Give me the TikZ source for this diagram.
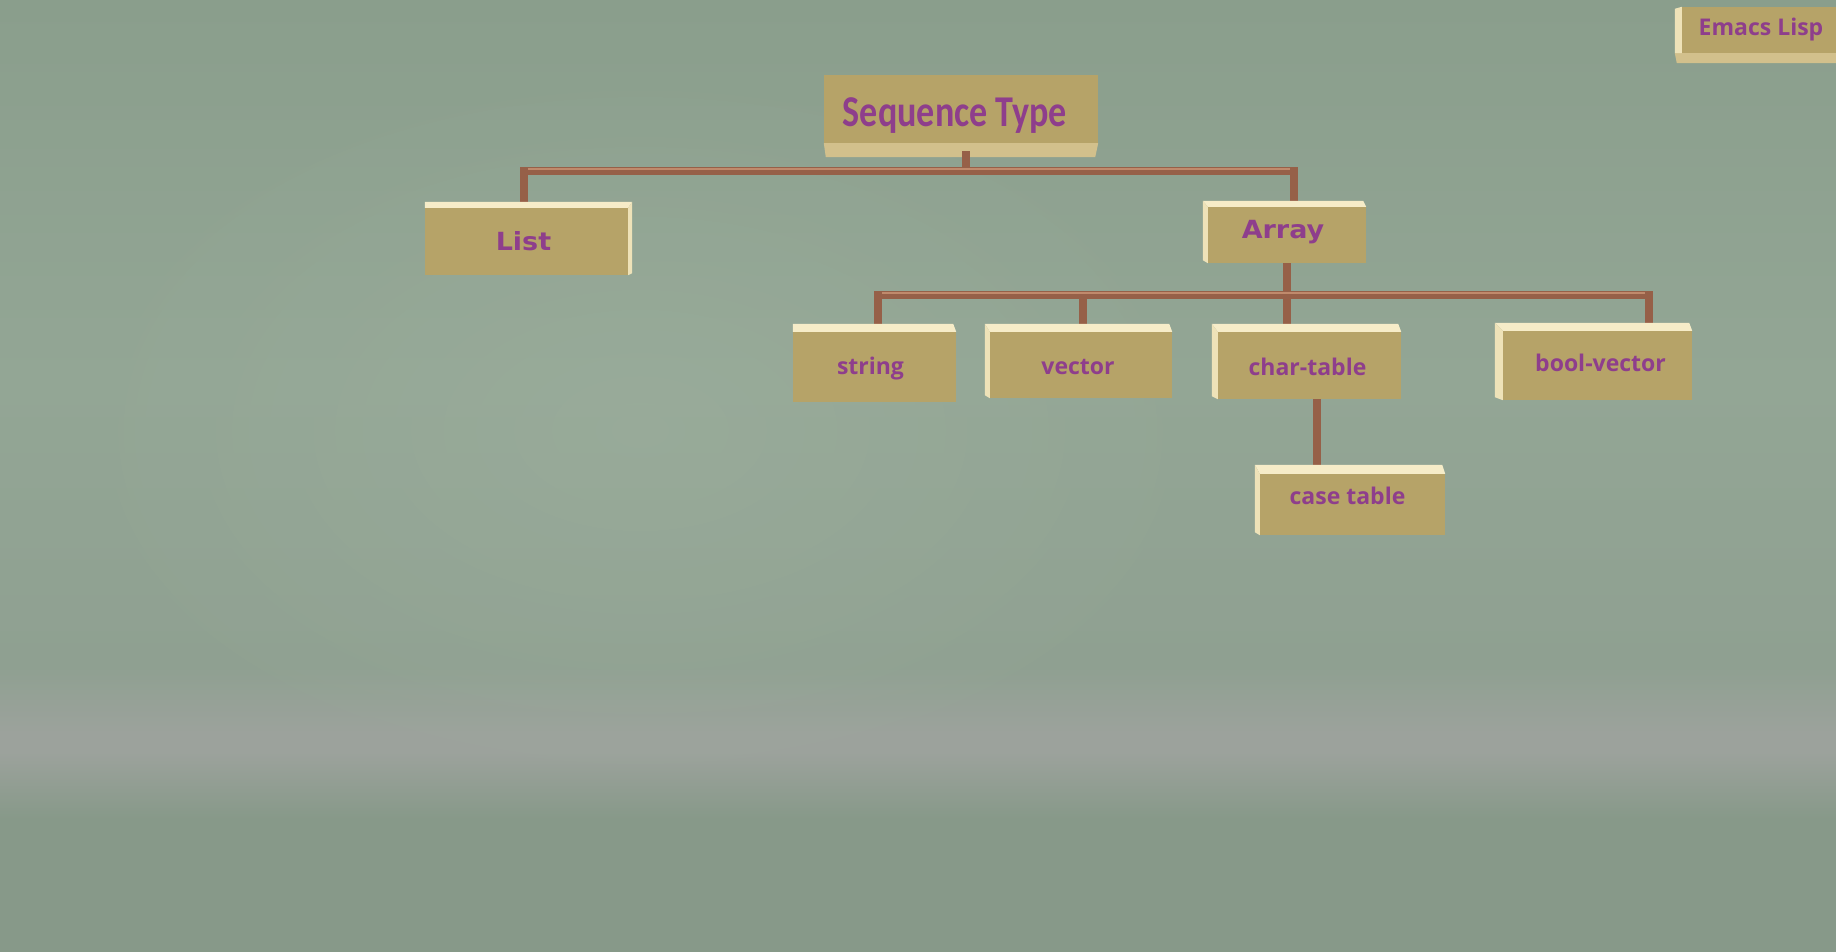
\documentclass[tikz,border=0pt]{standalone}
\usepackage{fontspec}
\usepackage{graphicx}
\usetikzlibrary{calc,fadings}
\newfontfamily\seqfont{Carlito}
\newfontfamily\widefont{DejaVu Sans}
\newfontfamily\boxfont{Open Sans}
\definecolor{bgtop}{RGB}{138,158,140}
\definecolor{bgmid}{RGB}{147,166,149}
\definecolor{bglow}{RGB}{143,160,145}
\definecolor{bgband}{RGB}{156,162,156}
\definecolor{bgbot}{RGB}{135,153,137}
\definecolor{glowc}{RGB}{160,178,160}
\definecolor{frontc}{RGB}{182,163,104}
\definecolor{topc}{RGB}{246,236,200}
\definecolor{sidec}{RGB}{238,226,184}
\definecolor{bandc}{RGB}{210,192,140}
\definecolor{textc}{RGB}{142,62,140}
\definecolor{connc}{RGB}{150,96,72}
\definecolor{connhi}{RGB}{192,138,108}
\pgfdeclareverticalshading{bgshade}{100bp}{color(0bp)=(bgbot); color(25bp)=(bgbot); color(32bp)=(bgbot); color(35.5bp)=(bgband); color(36.5bp)=(bgband); color(40bp)=(bglow); color(55bp)=(bgmid); color(75bp)=(bgtop); color(100bp)=(bgtop)}
\tikzfading[name=glowfade, inner color=transparent!55, outer color=transparent!100]
\newcommand\tpos[3]{\raisebox{#2}[\height][\depth]{\hspace*{#1}#3\hspace*{-#1}}}
\newcommand\topL[3]{\fill[topc] ($(#1.north west)+(-#2,-#3)$) -- ($(#1.north east)+(-3,-#3)$) -- (#1.north east) -- (#1.north west) -- cycle;}
\newcommand\sideL[3]{\fill[sidec] ($(#1.north west)+(-#2,-#3)$) -- (#1.north west) -- (#1.south west) -- ($(#1.south west)+(-#2,-3)$) -- cycle;}
\newcommand\topR[3]{\fill[topc] ($(#1.north west)+(0,-#3)$) -- ($(#1.north east)+(#2,-#3)$) -- (#1.north east) -- (#1.north west) -- cycle;}
\newcommand\sideR[3]{\fill[sidec] ($(#1.north east)+(#2,-#3)$) -- (#1.north east) -- (#1.south east) -- ($(#1.south east)+(#2,-2)$) -- cycle;}
\begin{document}
\begin{tikzpicture}[x=1pt,y=-1pt,
  box/.style={fill=frontc, inner sep=0pt, text=textc, anchor=center},
  seqbox/.style={box, font=\seqfont\bfseries\fontsize{44}{48}\selectfont},
  widebox/.style={box, font=\widefont\bfseries\fontsize{25}{29}\selectfont},
  leafbox/.style={box, font=\boxfont\bfseries\fontsize{23}{27}\selectfont},
  conn/.style={draw=connc, line width=7.5pt},
  hilite/.style={draw=connhi, line width=2.5pt}]
\useasboundingbox (0,0) rectangle (1836,952);
\shade[shading=bgshade] (0,0) rectangle (1836,952);
\fill[glowc, path fading=glowfade] (640,430) ellipse (620 and 380);
% nodes (front faces)
\node[seqbox, minimum width=274pt, minimum height=68pt] (seq) at (961,109) {\tpos{-6pt}{-7pt}{\scalebox{0.82}[1]{Sequence Type}}};
\node[leafbox, minimum width=170pt, minimum height=46pt] (emacs) at (1767,30) {\tpos{-6pt}{0pt}{Emacs Lisp}};
\node[widebox, minimum width=203pt, minimum height=67pt] (list) at (526.5,241.5) {\tpos{-3pt}{0pt}{\scalebox{1.08}[1]{List}}};
\node[widebox, minimum width=158pt, minimum height=56pt] (array) at (1287,235) {\tpos{-4pt}{3pt}{\scalebox{1.08}[1]{Array}}};
\node[leafbox, minimum width=163pt, minimum height=70pt] (string) at (874.5,367) {\tpos{-4pt}{-2pt}{string}};
\node[leafbox, minimum width=182pt, minimum height=66pt] (vector) at (1081,365) {\tpos{-3pt}{-2pt}{vector}};
\node[leafbox, minimum width=183pt, minimum height=67pt] (chart) at (1309.5,365.5) {\tpos{-2pt}{-1pt}{char-table}};
\node[leafbox, minimum width=189pt, minimum height=69pt] (boolv) at (1597.5,365.5) {\tpos{3pt}{3pt}{bool-vector}};
\node[leafbox, minimum width=185pt, minimum height=61pt] (caset) at (1352.5,504.5) {\tpos{-5pt}{9pt}{case table}};
% extra faces of Sequence Type and Emacs Lisp
\fill[bandc] (seq.south west) -- (seq.south east) -- ($(seq.south east)+(-3,14)$) -- ($(seq.south west)+(2,14)$) -- cycle;
\fill[bandc] ($(emacs.south west)+(-7,0)$) -- (emacs.south east) -- ($(emacs.south east)+(0,10)$) -- ($(emacs.south west)+(-5,10)$) -- cycle;
\fill[sidec] ($(emacs.north west)+(-7,2)$) -- (emacs.north west) -- (emacs.south west) -- ($(emacs.south west)+(-7,0)$) -- cycle;
% connectors
\coordinate (j0) at (966,171);
\coordinate (jL) at (524,171);
\coordinate (jR) at (1294,171);
\coordinate (k0) at (1287,295);
\coordinate (kL) at (878,295);
\coordinate (k2) at (1083,295);
\coordinate (kR) at (1649,295);
\coordinate (cs) at (1317,430);
\draw[conn] ($(seq.south -| j0)+(0,8)$) -- (j0);
\draw[conn, line join=miter] (list.north -| jL) -- (jL) -- (jR) -- (array.north -| jR);
\draw[hilite] ($(jL)+(4,-2)$) -- ($(jR)+(-4,-2)$);
\draw[conn] (array.south -| k0) -- (k0);
\draw[conn, line join=miter] (string.north -| kL) -- (kL) -- (kR) -- (boolv.north -| kR);
\draw[hilite] ($(kL)+(4,-2)$) -- ($(kR)+(-4,-2)$);
\draw[conn] (k2) -- (vector.north -| k2);
\draw[conn] (k0) -- (chart.north -| k0);
\draw[conn] (chart.south -| cs) -- (caset.north -| cs);
% top and side faces
\topR{list}{4}{6}
\sideR{list}{4}{6}
\topL{array}{5}{6}
\sideL{array}{5}{6}
\topL{string}{0}{8}
\topL{vector}{5}{8}
\sideL{vector}{5}{8}
\topL{chart}{6}{8}
\sideL{chart}{6}{8}
\topL{boolv}{8}{8}
\sideL{boolv}{8}{8}
\topL{caset}{5}{9}
\sideL{caset}{5}{9}
\end{tikzpicture}
\end{document}
